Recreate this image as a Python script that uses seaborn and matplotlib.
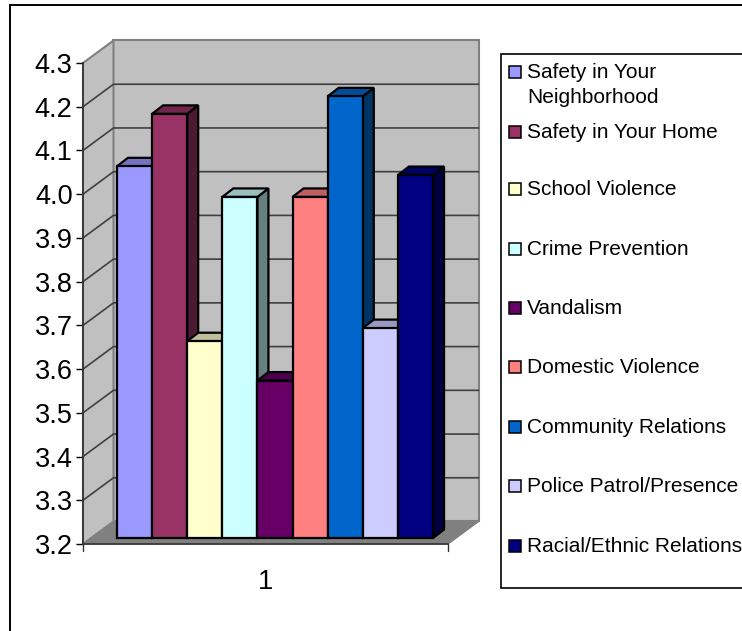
import matplotlib
matplotlib.use("Agg")
import matplotlib.pyplot as plt
import matplotlib.colors as mc
from matplotlib.patches import Polygon, Rectangle
from matplotlib.transforms import IdentityTransform
import pandas as pd
import seaborn as sns

categories = ["Safety in Your\nNeighborhood", "Safety in Your Home", "School Violence",
              "Crime Prevention", "Vandalism", "Domestic Violence",
              "Community Relations", "Police Patrol/Presence", "Racial/Ethnic Relations"]
values = [4.05, 4.17, 3.65, 3.98, 3.56, 3.98, 4.21, 3.68, 4.03]
colors = ["#9999FF", "#993366", "#FFFFCC", "#CCFFFF", "#660066",
          "#FF8080", "#0066CC", "#CCCCFF", "#000080"]
y_ticks = [3.2, 3.3, 3.4, 3.5, 3.6, 3.7, 3.8, 3.9, 4.0, 4.1, 4.2, 4.3]
legend_y_px = [72, 132, 189, 249, 308, 367, 427, 486, 546]

W, H = 742, 631
sns.set_theme(style="white")
plt.rcParams["font.family"] = ["Liberation Sans", "DejaVu Sans"]
fig = plt.figure(figsize=(W / 100, H / 100), dpi=100)
PX = IdentityTransform()
def fx(x): return x / W
def fy(y): return 1 - y / H

# front plane of the 3D box
ax = fig.add_axes([fx(83), fy(544), (448 - 83) / W, (544 - 63) / H])
df = pd.DataFrame({"x": ["1"] * len(values), "series": categories, "value": values})
sns.barplot(data=df, x="x", y="value", hue="series", hue_order=categories,
            palette=colors, width=0.866, gap=0, dodge=True, legend=False,
            saturation=1, edgecolor="black", linewidth=1.6, ax=ax)
ax.set_xlim(-0.5, 0.5)
ax.set_ylim(3.2, 4.3)
ax.set_yticks(y_ticks)
ax.set_yticklabels([f"{v:.1f}" for v in y_ticks], fontsize=19.5, color="black")
ax.set_xlabel(""); ax.set_ylabel("")
ax.tick_params(axis="x", length=0, labelsize=19.5, pad=18, colors="black")
ax.tick_params(axis="y", length=5, width=1, color="black", left=True, pad=2.5)
ax.patch.set_alpha(0)
for s in ["top", "right", "bottom"]:
    ax.spines[s].set_visible(False)
ax.spines["left"].set_color("#333333")
ax.spines["left"].set_zorder(1)

fig.canvas.draw()
def data_px(x, y):
    return ax.transData.transform((x, y))

DX, DY = 30.5, 22.5          # box depth, pixels
L, R = data_px(-0.5, 3.2)[0], data_px(0.5, 3.2)[0]
y0 = data_px(0, 3.2)[1]
yt = data_px(0, 4.3)[1]
def poly(pts, **kw):
    p = Polygon(pts, closed=True, transform=PX, clip_on=False, **kw)
    ax.add_patch(p)

poly([(L + DX, y0 + DY), (R + DX, y0 + DY), (R + DX, yt + DY), (L + DX, yt + DY)],
     fc="#C0C0C0", ec="#808080", lw=1.5, zorder=0.5)
poly([(L, y0), (L + DX, y0 + DY), (L + DX, yt + DY), (L, yt)],
     fc="#C0C0C0", ec="#808080", lw=1.5, zorder=0.5)
poly([(L, y0), (R, y0), (R + DX, y0 + DY), (L + DX, y0 + DY)],
     fc="#808080", ec="#808080", lw=1, zorder=0.6)
for v in y_ticks[1:-1]:
    yy = data_px(0, v)[1]
    ax.plot([L, L + DX, R + DX], [yy, yy + DY, yy + DY], transform=PX,
            color="#404040", lw=1.2, zorder=0.7, clip_on=False)
ax.plot([L, R], [y0, y0], transform=PX, color="#333333", lw=1.2, zorder=0.8, clip_on=False)
ax.plot([L, L], [y0 - 7, y0], transform=PX, color="#333333", lw=1, clip_on=False)
ax.plot([R, R], [y0 - 7, y0], transform=PX, color="#333333", lw=1, clip_on=False)

# bars as 3D columns
SX, SY = 9.5, 6              # bar offset from front plane
BX, BY = 11, 8.5             # bar depth
bars = [p for p in ax.patches if isinstance(p, Rectangle) and p.get_height() > 0.01]
for i, b in enumerate(bars):
    x0, h, w = b.get_x(), b.get_height(), b.get_width()
    a = data_px(x0, 3.2) + (SX, SY)
    c = data_px(x0 + w, b.get_y() + h) + (SX, SY)
    base = mc.to_rgb(b.get_facecolor())
    side = tuple(k * 0.5 for k in base)
    top = tuple(k * 0.75 for k in base)
    z = 2 + i
    b.set_visible(False)
    poly([(c[0], a[1]), (c[0] + BX, a[1] + BY), (c[0] + BX, c[1] + BY), (c[0], c[1])],
         fc=side, ec="black", lw=1.6, zorder=z, joinstyle="miter")
    poly([(a[0], c[1]), (c[0], c[1]), (c[0] + BX, c[1] + BY), (a[0] + BX, c[1] + BY)],
         fc=top, ec="black", lw=1.6, zorder=z + 0.1, joinstyle="miter")
    poly([(a[0], a[1]), (c[0], a[1]), (c[0], c[1]), (a[0], c[1])],
         fc=base, ec="black", lw=1.6, zorder=z + 0.2, joinstyle="miter")

# chart-area border (runs off the canvas at the bottom and right)
fig.add_artist(Rectangle((fx(10), fy(H + 5)), (W + 5 - 10) / W, (H + 5 - 5) / H,
                         transform=fig.transFigure, fc="none", ec="black", lw=1.4))
# legend box
fig.add_artist(Rectangle((fx(501), fy(588)), (W + 5 - 501) / W, (588 - 54) / H,
                         transform=fig.transFigure, fc="white", ec="black", lw=1.2))
for name, col, yp in zip(categories, colors, legend_y_px):
    fig.add_artist(Rectangle((fx(509), fy(yp + 6)), 12 / W, 12 / H, transform=fig.transFigure,
                             fc=col, ec="black", lw=1.1))
    fig.text(fx(527), fy(yp - 9), name, fontsize=15, color="black", va="top", ha="left",
             linespacing=1.38)

fig.savefig("out.png", dpi=100)
